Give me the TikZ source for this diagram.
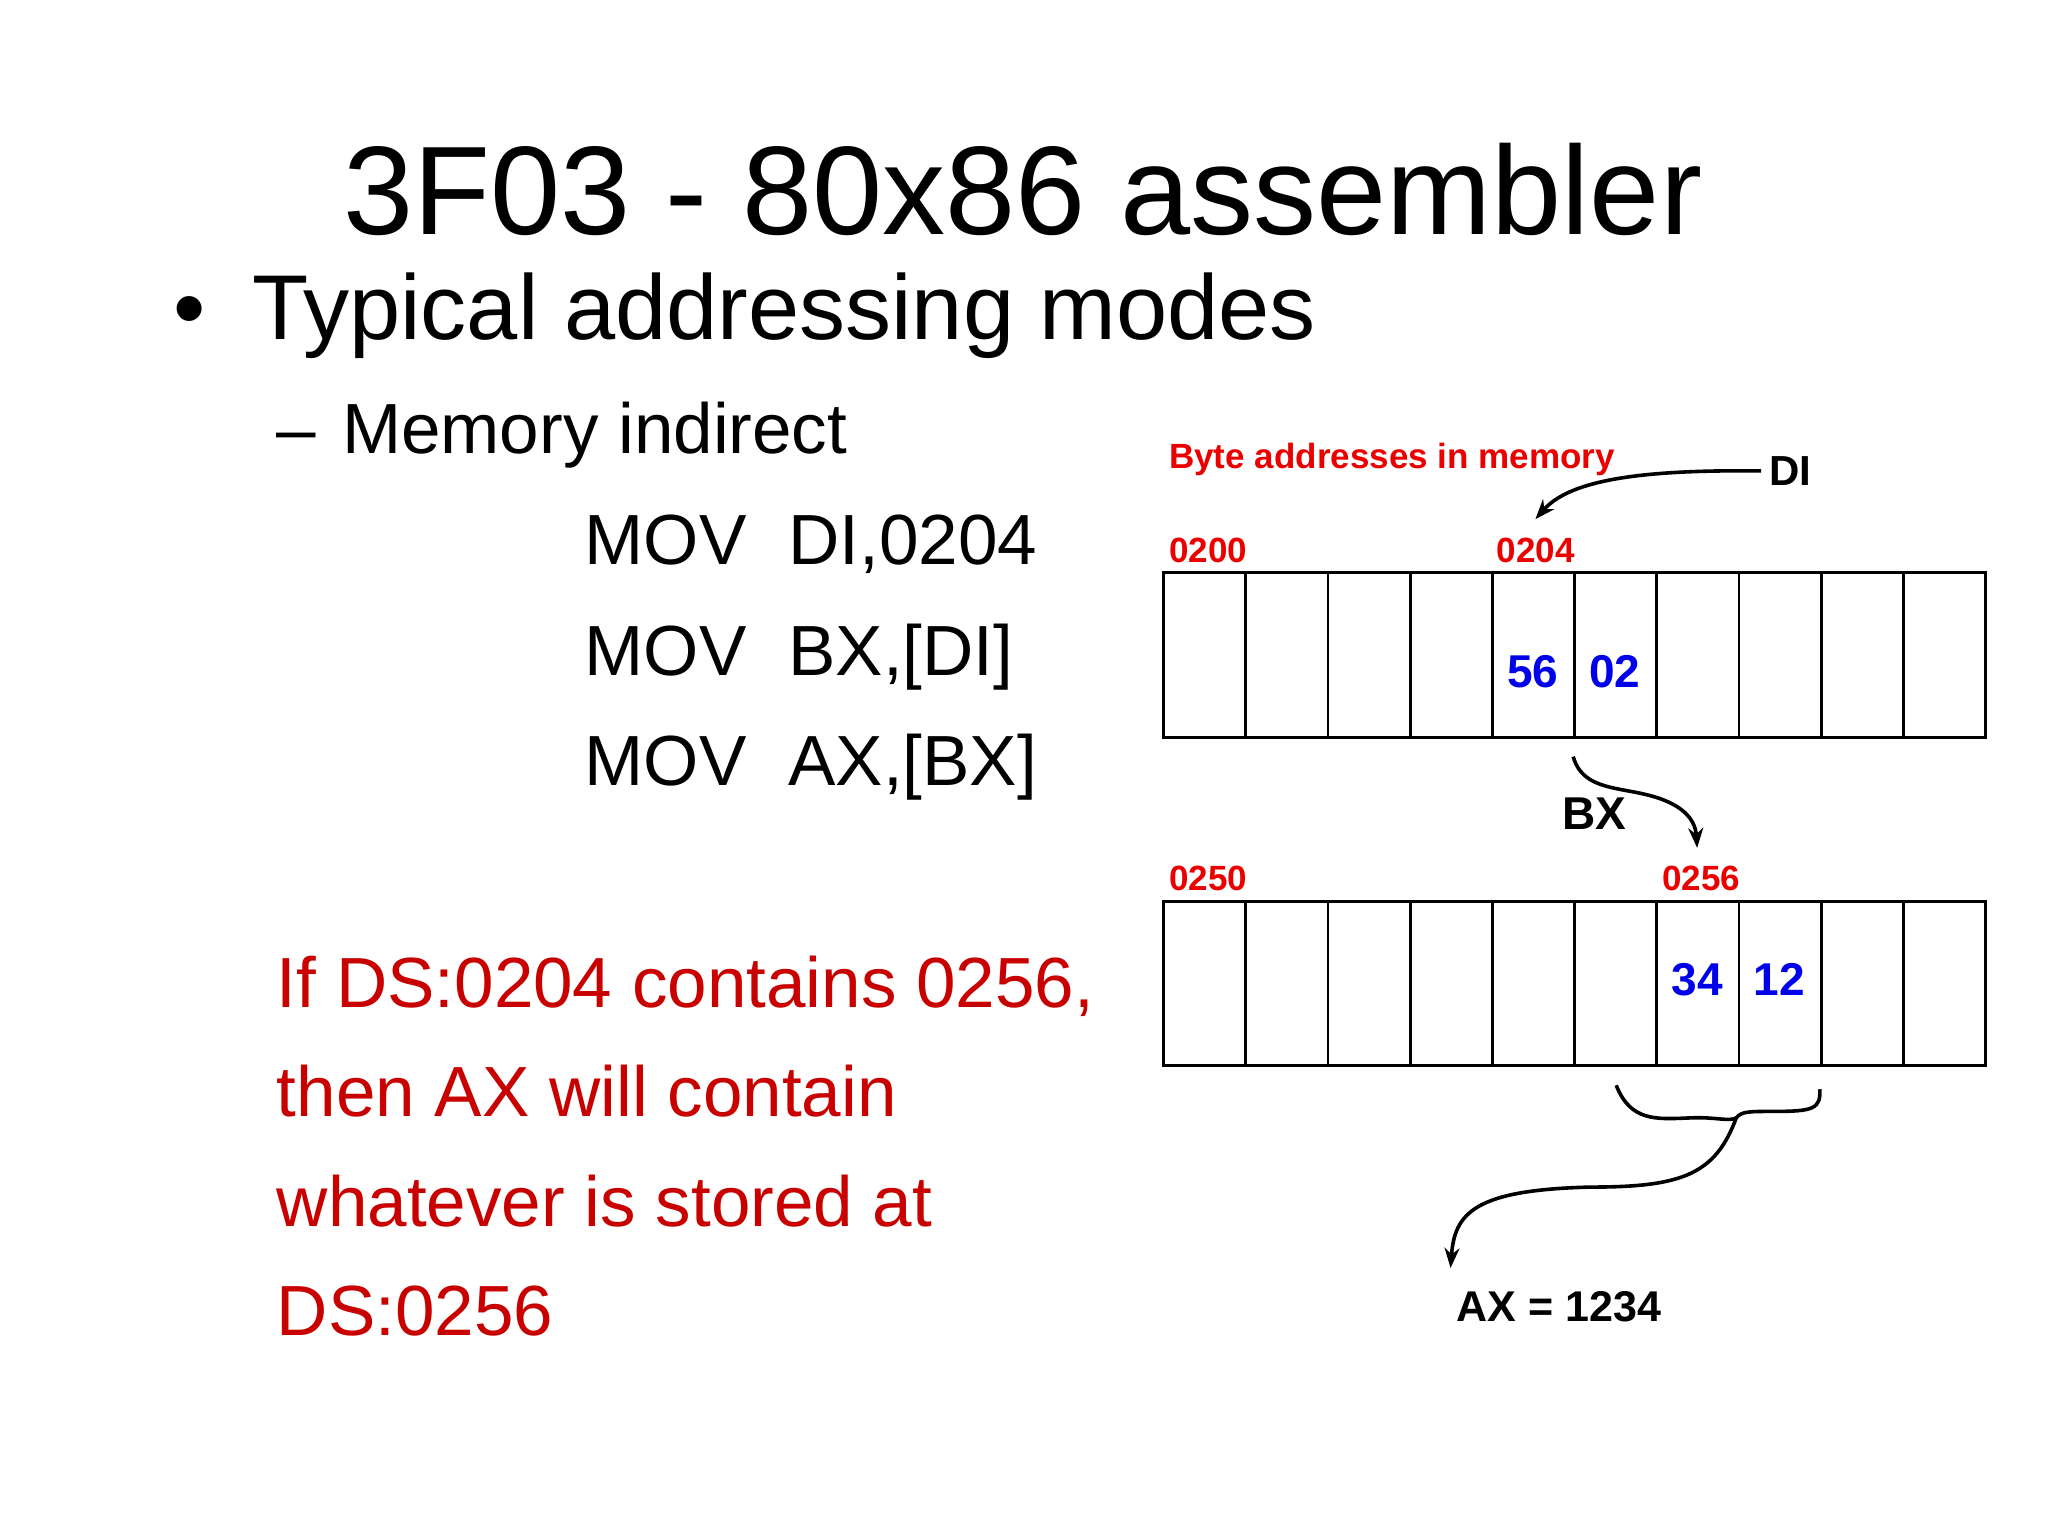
\documentclass[tikz,border=0pt]{standalone}
\usepackage{fontspec}
\setmainfont{Liberation Sans}
\usetikzlibrary{arrows.meta}
\definecolor{dred}{RGB}{200,0,0}
\definecolor{lred}{RGB}{235,0,0}
\definecolor{vblue}{RGB}{0,0,235}
\tikzset{
  txt/.style={anchor=base west,inner sep=0pt},
  big/.style={txt,font=\fontsize{35.5}{40}\selectfont},
  lab/.style={txt,text=lred,font=\bfseries\fontsize{17.5}{20}\selectfont},
  val/.style={anchor=base,inner sep=0pt,text=vblue,font=\bfseries\fontsize{23}{26}\selectfont},
  cell/.style={draw,line width=1.4pt,minimum width=63*0.652pt,minimum height=126*0.652pt,inner sep=0pt,anchor=north west},
  conn/.style={line width=1.8pt,-{Stealth[length=10pt,width=7.5pt]}},
  plain/.style={line width=1.8pt}
}
\begin{document}
\begin{tikzpicture}[x=0.652pt,y=-0.652pt]
\useasboundingbox (0,0) rectangle (1570,1178);
\fill[white] (0,0) rectangle (1570,1178);
\node[anchor=base,inner sep=0pt,font=\fontsize{63}{66}\selectfont] (title) at (784,180) {3F03 - 80x86 assembler};
\node[txt,font=\fontsize{46}{50}\selectfont] (bul) at (133,260) {•};
\node[txt,font=\fontsize{46}{50}\selectfont] (sub) at (193,260) {Typical addressing modes};
\node[big] (dash) at (212,348) {–};
\node[big] (mi) at (262,348) {Memory indirect};
\node[big] (m1) at (448,433) {MOV};
\node[big] (o1) at (604,433) {DI,0204};
\node[big] (m2) at (448,518) {MOV};
\node[big] (o2) at (604,518) {BX,[DI]};
\node[big] (m3) at (448,602) {MOV};
\node[big] (o3) at (604,602) {AX,[BX]};
\node[big,text=dred] (r1) at (212,772) {If DS:0204 contains 0256,};
\node[big,text=dred] (r2) at (212,856) {then AX will contain};
\node[big,text=dred] (r3) at (212,940) {whatever is stored at};
\node[big,text=dred] (r4) at (212,1024) {DS:0256};
% memory rows
\foreach \i in {0,...,9} {
  \node[cell] (a\i) at (891+63*\i,438) {};
  \node[cell] (b\i) at (891+63*\i,690) {};
}
\node[lab] (hdr) at (896,359) {Byte addresses in memory};
\node[lab] (l200) at (896,431) {0200};
\node[lab] (l204) at (1147,431) {0204};
\node[lab] (l250) at (896,683) {0250};
\node[lab] (l256) at (1274,683) {0256};
\node[val] (v56) at (1175,527) {56};
\node[val] (v02) at (1238,527) {02};
\node[val] (v34) at (1301,763) {34};
\node[val] (v12) at (1364,763) {12};
\node[txt,font=\bfseries\fontsize{21}{23}\selectfont] (di) at (1356,372) {DI};
\node[anchor=base,inner sep=0pt,font=\bfseries\fontsize{23}{26}\selectfont] (bx) at (1222,636) {BX};
\node[anchor=base,inner sep=0pt,font=\bfseries\fontsize{21.5}{26}\selectfont] (ax) at (1195,1013) {AX = 1234};
% connectors
\coordinate (diS) at (1350,361);
\coordinate (diE) at (1177,398);
\draw[conn] (diS) -- (1320,361) .. controls (1240,362) and (1200,372) .. (diE);
\coordinate (bxS) at (1206,580);
\coordinate (bxE) at (1301,650);
\draw[conn] (bxS) .. controls (1215,612) and (1255,600) .. (1285,618) .. controls (1298,626) and (1300,635) .. (bxE);
\coordinate (brL) at (1239,832);
\coordinate (brR) at (1395,835);
\coordinate (brM) at (1331,857);
\draw[plain] (brL) .. controls (1250,860) and (1270,858) .. (1295,857) .. controls (1315,856) and (1325,860) .. (brM);
\draw[plain] (brR) .. controls (1396,850) and (1390,852) .. (1360,852) .. controls (1340,852) and (1335,852) .. (brM);
\coordinate (axE) at (1112,972);
\draw[conn] (brM) .. controls (1315,900) and (1290,910) .. (1220,910) .. controls (1130,912) and (1115,930) .. (axE);
\end{tikzpicture}
\end{document}
